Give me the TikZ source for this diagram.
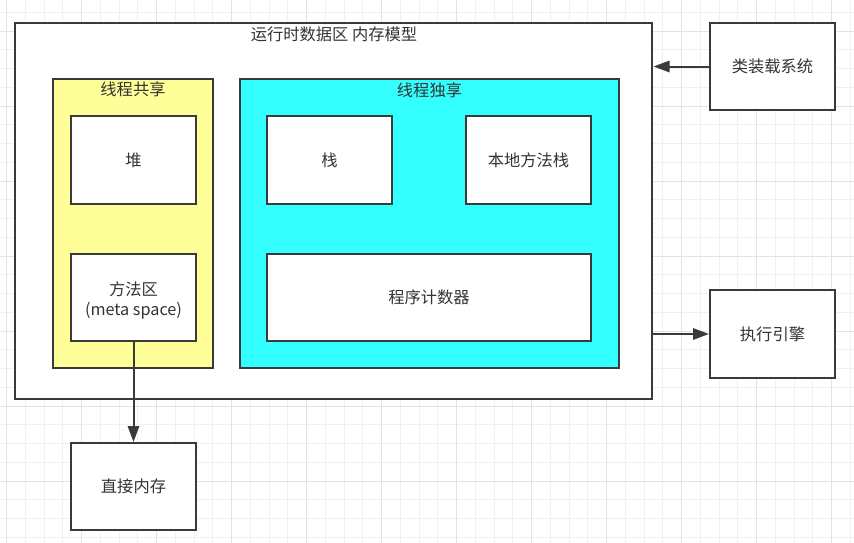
\documentclass[tikz,border=0pt]{standalone}
\usepackage{fontspec}
\setmainfont{Noto Sans CJK SC}
\usetikzlibrary{arrows.meta,fit}
\definecolor{edge}{HTML}{3A3A3A}
\definecolor{txt}{HTML}{333333}
\definecolor{shared}{HTML}{FFFF99}
\definecolor{private}{HTML}{33FFFF}
\definecolor{gridminor}{HTML}{F0F0F0}
\definecolor{gridmajor}{HTML}{E3E3E3}
\begin{document}
\begin{tikzpicture}[x=0.75pt,y=-0.75pt,
  box/.style={draw=edge,line width=1.5pt,fill=white,inner sep=0pt},
  lbl/.style={text=txt,font=\fontsize{12.2pt}{15pt}\selectfont,align=center,inner sep=0pt},
  conn/.style={draw=edge,line width=1.5pt,-{Triangle[length=12pt,width=8.5pt]}}]
\useasboundingbox (0,0) rectangle (854,543);
\fill[white] (0,0) rectangle (854,543);
% grid
\foreach \k in {0,...,45}{\draw[gridminor,line width=0.75pt] ({6.7+18.75*\k},0) -- ({6.7+18.75*\k},543);}
\foreach \k in {0,...,28}{\draw[gridminor,line width=0.75pt] (0,{12.25+18.75*\k}) -- (854,{12.25+18.75*\k});}
\foreach \k in {0,...,11}{\draw[gridmajor,line width=0.75pt] ({6.7+75*\k},0) -- ({6.7+75*\k},543);}
\foreach \k in {0,...,7}{\draw[gridmajor,line width=0.75pt] (0,{31+75*\k}) -- (854,{31+75*\k});}
% outer box
\node[box,fit={(15,23) (652,399)}] (outer) {};
\node[lbl] (outerttl) at (334,34) {运行时数据区 内存模型};
% shared
\node[box,fill=shared,fit={(53,79) (213,368)}] (sharedbox) {};
\node[lbl] (sharedttl) at (133,89.5) {线程共享};
\node[box,fit={(71,116) (196,204)}] (heap) {};
\node[lbl] (heaptxt) at (heap.center) {堆};
\node[box,fit={(71,254) (196,341)}] (method) {};
\node[lbl] (methodtxt) at (133.5,300) {方法区\\(meta space)};
% private
\node[box,fill=private,fit={(240,79) (619,368)}] (privatebox) {};
\node[lbl] (privatettl) at (429.5,90) {线程独享};
\node[box,fit={(267,116) (392,204)}] (stack) {};
\node[lbl] (stacktxt) at (stack.center) {栈};
\node[box,fit={(466,116) (591,204)}] (native) {};
\node[lbl] (nativetxt) at (native.center) {本地方法栈};
\node[box,fit={(267,254) (591,341)}] (pc) {};
\node[lbl] (pctxt) at (pc.center) {程序计数器};
% external
\node[box,fit={(710,23) (835,110)}] (loader) {};
\node[lbl] (loadertxt) at (loader.center) {类装载系统};
\node[box,fit={(710,290) (835,378)}] (engine) {};
\node[lbl] (enginetxt) at (engine.center) {执行引擎};
\node[box,fit={(71,443) (196,530)}] (direct) {};
\node[lbl] (directtxt) at (direct.center) {直接内存};
% connectors
\coordinate (loadin) at (653.5,66.5);
\coordinate (engout) at (652,334);
\draw[conn] (loader.west |- loadin) -- (loadin);
\draw[conn] (engout) -- (engine.west |- engout);
\draw[conn] (method.south) -- (direct.north);
\end{tikzpicture}
\end{document}
